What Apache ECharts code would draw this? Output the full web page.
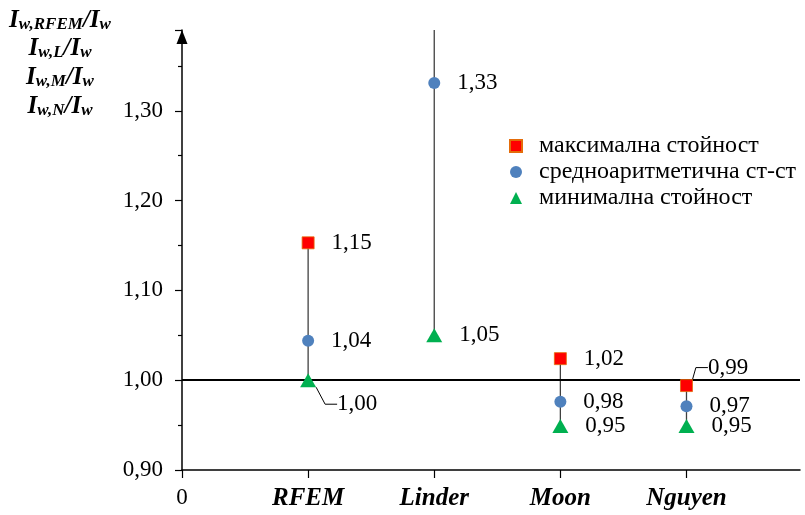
<!DOCTYPE html>
<html>
<head>
<meta charset="utf-8">
<script src="https://cdn.jsdelivr.net/npm/echarts@6/dist/echarts.min.js"></script>
<style>html,body{margin:0;padding:0;background:#fff}#c{width:805px;height:515px}</style>
</head>
<body>
<div id="c"></div>
<script>
const categories = ['RFEM', 'Linder', 'Moon', 'Nguyen'];
const xTickLabels = ['0', 'RFEM', 'Linder', 'Moon', 'Nguyen'];
const maxValues = [1.153, 1.50, 1.024, 0.994];
const meanValues = [1.044, 1.331, 0.976, 0.971];
const minValues = [1.000, 1.050, 0.949, 0.949];
const seriesNames = ['максимална стойност', 'средноаритметична ст-ст', 'минимална стойност'];
const referenceLevel = 1.00;

const FONT = '"Liberation Serif","Times New Roman",serif';
const fmt = v => v.toFixed(2).replace('.', ',');
const Y_MAX = 1.39;

const pts = vals => vals.map((v, i) => [i + 1, v]);

const chart = echarts.init(document.getElementById('c'), null, {renderer: 'canvas'});

const labelBase = {
  show: true, position: 'right', distance: 17,
  fontFamily: FONT, fontSize: 23, color: '#000',
  formatter: p => p.value[1] > Y_MAX ? '' : fmt(p.value[1])
};

function withLeader(vals, idx) {
  return vals.map((v, i) => i === idx
    ? {value: [i + 1, v], labelLine: {show: true}}
    : {value: [i + 1, v], labelLine: {show: false}});
}

const titleLines = [
  ['RFEM', 19], ['L', 47], ['M', 76], ['N', 105]
];

chart.setOption({
  animation: false,
  backgroundColor: '#fff',
  grid: {left: 182, right: 5, top: 30, bottom: 45},
  xAxis: {
    type: 'value', min: 0, max: 4.9, interval: 1,
    axisLine: {lineStyle: {color: '#000', width: 1.5}},
    axisTick: {show: true, length: 8, lineStyle: {color: '#000', width: 1.2}},
    splitLine: {show: false},
    axisLabel: {
      margin: 16, showMaxLabel: false,
      formatter: v => {
        const i = Math.round(v);
        if (Math.abs(v - i) > 1e-6 || i > 4) return '';
        return i === 0 ? '{n|0}' : '{c|' + xTickLabels[i] + '}';
      },
      rich: {
        n: {fontFamily: FONT, fontSize: 23, color: '#000'},
        c: {fontFamily: FONT, fontSize: 25, fontWeight: 'bold', fontStyle: 'italic', color: '#000'}
      }
    }
  },
  yAxis: {
    type: 'value', min: 0.9, max: Y_MAX, interval: 0.1,
    axisLine: {show: true, lineStyle: {color: '#000', width: 1.5}, symbol: ['none', 'triangle'], symbolSize: [11, 14], symbolOffset: [0, -7]},
    axisTick: {show: true, length: 7, lineStyle: {color: '#000', width: 1.2}},
    minorTick: {show: true, splitNumber: 2, length: 4, lineStyle: {color: '#000', width: 1.2}},
    splitLine: {show: false},
    axisLabel: {
      showMaxLabel: false, margin: 19,
      fontFamily: FONT, fontSize: 23, color: '#000',
      formatter: v => (v > Y_MAX - 0.02) ? '' : fmt(v)
    }
  },
  legend: {
    orient: 'vertical', left: 504, top: 129,
    itemWidth: 12, itemHeight: 12, itemGap: 2,
    data: seriesNames,
    textStyle: {fontFamily: FONT, fontSize: 24, color: '#000', padding: [0, 0, 0, 12]}
  },
  graphic: titleLines.map(([sub, y]) => ({
    type: 'text', x: 60, y: y,
    style: {
      text: '{b|I}{s|w,' + sub + '}{b|/I}{s|w}',
      align: 'center', verticalAlign: 'middle',
      rich: {
        b: {fontFamily: FONT, fontSize: 25, fontWeight: 'bold', fontStyle: 'italic', fill: '#000', lineHeight: 28, verticalAlign: 'bottom'},
        s: {fontFamily: FONT, fontSize: 17, fontWeight: 'bold', fontStyle: 'italic', fill: '#000', lineHeight: 28, verticalAlign: 'bottom', padding: [9, 0, 0, 0]}
      }
    }
  })),
  labelLayout: p => {
    if (p.seriesIndex === 3 && p.dataIndex === 0) return {dx: 4, dy: 24};
    if (p.seriesIndex === 1 && p.dataIndex === 3) return {dx: -2, dy: -18};
    return {};
  },
  series: [
    {
      type: 'custom', name: 'range', silent: true, clip: true, z: 1,
      data: categories.map((c, i) => [i + 1, minValues[i], maxValues[i]]),
      encode: {x: 0, y: [1, 2]},
      renderItem: (params, api) => {
        const a = api.coord([api.value(0), api.value(1)]);
        const b = api.coord([api.value(0), api.value(2)]);
        return {type: 'line', shape: {x1: a[0], y1: a[1], x2: b[0], y2: b[1]},
          style: {stroke: '#404040', lineWidth: 1.3}};
      },
      markLine: {
        silent: true, symbol: ['none', 'none'], z: 2,
        label: {show: false},
        lineStyle: {color: '#000', width: 2, type: 'solid'},
        data: [{yAxis: referenceLevel}]
      }
    },
    {
      type: 'scatter', name: seriesNames[0], z: 4, clip: true,
      symbol: 'rect', symbolSize: 12,
      itemStyle: {color: '#FF0000', borderColor: '#E46C0A', borderWidth: 0.8, opacity: 1},
      label: labelBase,
      labelLine: {show: false, length2: 12, lineStyle: {color: '#000', width: 1}},
      data: withLeader(maxValues, 3)
    },
    {
      type: 'scatter', name: seriesNames[1], z: 4, clip: true,
      symbol: 'circle', symbolSize: 12,
      itemStyle: {color: '#4F81BD', opacity: 1},
      label: labelBase,
      data: pts(meanValues)
    },
    {
      type: 'scatter', name: seriesNames[2], z: 4, clip: true,
      symbol: 'triangle', symbolSize: [16, 14],
      itemStyle: {color: '#00B050', opacity: 1},
      label: labelBase,
      labelLine: {show: false, length2: 12, lineStyle: {color: '#000', width: 1}},
      data: withLeader(minValues, 0)
    }
  ]
});
</script>
</body>
</html>
